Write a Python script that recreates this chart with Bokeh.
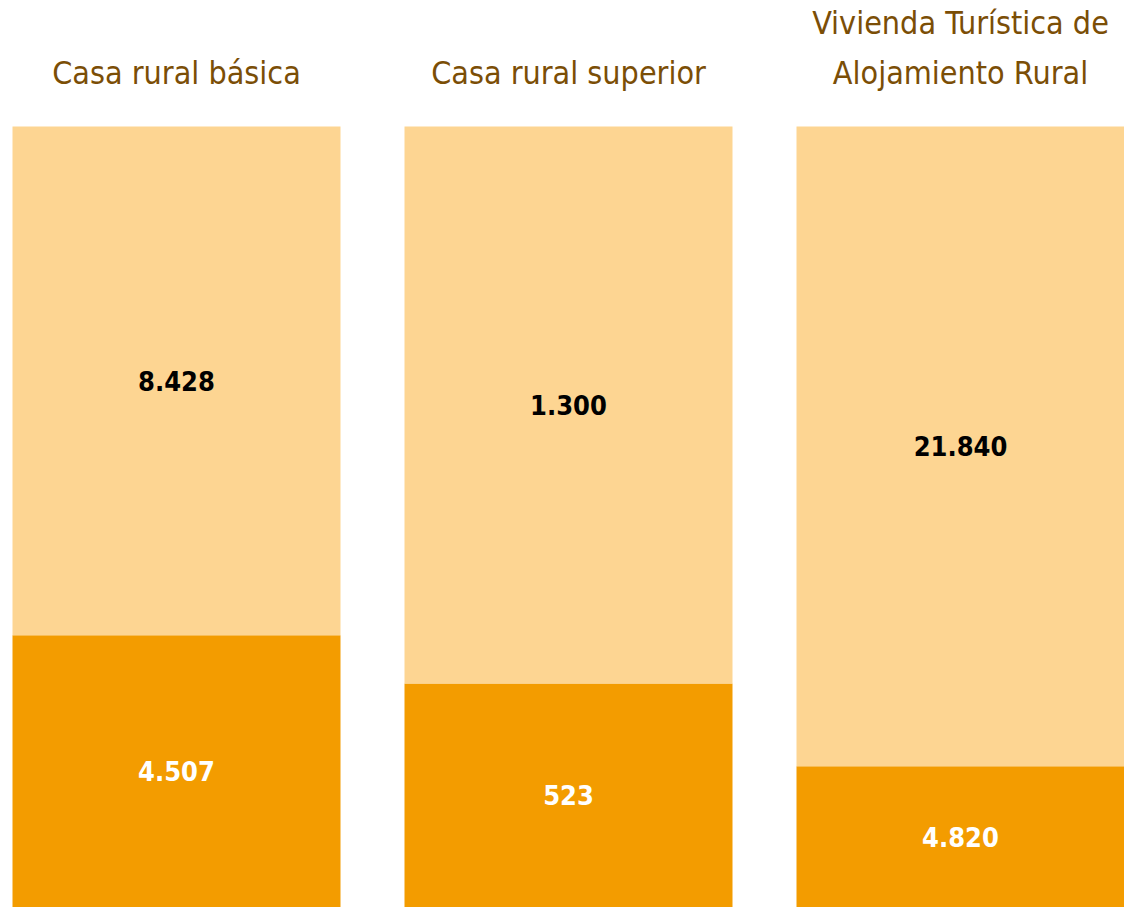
import numpy as np
from bokeh.plotting import figure
from bokeh.models import ColumnDataSource, Range1d
from bokeh.core.properties import value
from bokeh.embed import file_html
from bokeh.resources import INLINE

categories = ["Casa rural básica", "Casa rural superior", "Vivienda Turística de Alojamiento Rural"]
title_lines = [["Casa rural básica"], ["Casa rural superior"], ["Vivienda Turística de", "Alojamiento Rural"]]
serie_inferior = [4507, 523, 4820]
serie_superior = [8428, 1300, 21840]

FONT = "DejaVu Sans Condensed"
DARK = "#F39C00"
LIGHT = "#FDD592"
BROWN = "#7B4E06"

def fmt(v):
    return f"{v:,}".replace(",", ".")

lo = np.array(serie_inferior, dtype=float)
hi = np.array(serie_superior, dtype=float)
tot = lo + hi
frac_lo = lo / tot
x = np.arange(len(categories), dtype=float)

W, H = 1124, 907
X0 = 176  # pixel of first bar centre
p = figure(width=W, height=H, output_backend="svg", toolbar_location=None,
           x_range=Range1d(-X0 / 392, -X0 / 392 + W / 392),
           y_range=Range1d(0, H / 781), min_border=0)
p.xaxis.visible = False
p.yaxis.visible = False
p.xgrid.visible = False
p.ygrid.visible = False
p.outline_line_color = None
p.background_fill_color = "white"
p.border_fill_color = "white"

src = ColumnDataSource(dict(
    x=x, lo=frac_lo, one=np.ones_like(x),
    lo_mid=frac_lo / 2, hi_mid=(frac_lo + 1) / 2,
    lo_lab=[fmt(v) for v in serie_inferior], hi_lab=[fmt(v) for v in serie_superior],
))
bw = 328 / 392
p.vbar(x="x", bottom=0, top="lo", width=bw, source=src, fill_color=DARK, line_color=None)
p.vbar(x="x", bottom="lo", top="one", width=bw, source=src, fill_color=LIGHT, line_color=None)

p.text(x="x", y="hi_mid", text="hi_lab", source=src, text_font=value(FONT),
       text_font_size="27px", text_font_style="bold", text_color="black",
       text_align="center", text_baseline="middle")
p.text(x="x", y="lo_mid", text="lo_lab", source=src, text_font=value(FONT),
       text_font_size="27px", text_font_style="bold", text_color="white",
       text_align="center", text_baseline="middle")

tx, ty, tt = [], [], []
base = (H - 72) / 781
step = 50 / 781
for i, lines in enumerate(title_lines):
    n = len(lines)
    for j, line in enumerate(lines):
        tx.append(x[i])
        ty.append(base + (n - 1 - j) * step)
        tt.append(line)
p.text(x=tx, y=ty, text=tt, text_font=value(FONT), text_font_size="32px",
       text_color=BROWN, text_align="center", text_baseline="alphabetic")

open("out.html", "w").write(file_html(p, INLINE))
